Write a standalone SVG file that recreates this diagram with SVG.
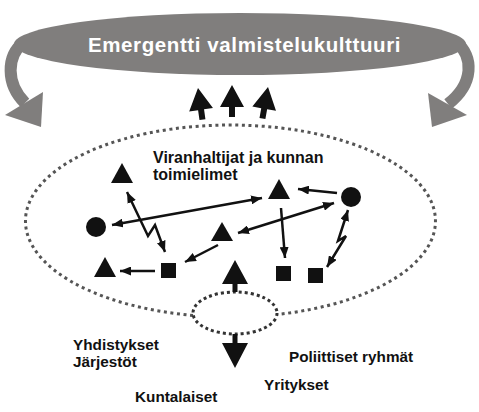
<svg xmlns="http://www.w3.org/2000/svg" width="479" height="412" viewBox="0 0 479 412">
<style>
.lbl{font-family:"Liberation Sans",Arial,sans-serif;font-weight:bold;fill:#111;}
.ln{fill:none;stroke:#111;stroke-width:2.5;marker-end:url(#ah);}
.dbl{marker-start:url(#ah);}
.shape{fill:#111;}
.gray{fill:none;stroke:#807e7d;stroke-width:12;}
</style>
<defs>
<marker id="ah" markerUnits="userSpaceOnUse" markerWidth="11" markerHeight="9" refX="11" refY="4.5" orient="auto-start-reverse">
<path d="M0,0 L11,4.5 L0,9 z" fill="#111"/>
</marker>
<polygon id="bigup" points="0,0 12,22 3,22 3,32 -3,32 -3,22 -12,22"/>
</defs>
<rect width="479" height="412" fill="#fff"/>

<g id="culture">
<path class="gray" d="M 24 42 C 6 56, 6 84, 25 103"/>
<polygon points="5,115 43,92 41,127" fill="#807e7d"/>
<path class="gray" d="M 456 42 C 474 56, 474 84, 448 104"/>
<polygon points="428,93 467,115 432,127" fill="#807e7d"/>
<ellipse cx="240" cy="44" rx="226" ry="31" fill="#807e7d"/>
<text x="88" y="52" font-family="'Liberation Sans',Arial,sans-serif" font-weight="bold" font-size="20.5" letter-spacing="0.6" fill="#fff">Emergentti valmistelukulttuuri</text>
</g>

<g id="emergence-arrows" fill="#111">
<use href="#bigup" transform="translate(198,88) rotate(-8)"/>
<use href="#bigup" transform="translate(232,85)"/>
<use href="#bigup" transform="translate(268,87) rotate(10)"/>
</g>

<g id="organisation">
<path d="M 193 315.4 A 205 96 0 1 1 278 314.4" fill="none" stroke="#555" stroke-width="3" stroke-dasharray="3 3.6"/>
<text class="lbl" font-size="16"><tspan x="153" y="163">Viranhaltijat ja kunnan</tspan><tspan x="153" y="180">toimielimet</tspan></text>
</g>

<g id="interface">
<ellipse cx="235" cy="313" rx="42" ry="21" fill="none" stroke="#333" stroke-width="3" stroke-dasharray="3 3"/>
<polygon class="shape" points="235,260 248,284 237.5,284 237.5,292 232.5,292 232.5,284 222,284"/>
<polygon class="shape" points="232.5,334 237.5,334 237.5,343 248,343 235,368 222,343 232.5,343"/>
</g>

<g id="n-tri1"><polygon class="shape" points="122,163 133,183 111,183"/></g>
<g id="n-circ1"><circle class="shape" cx="96" cy="227" r="10"/></g>
<g id="n-tri2"><polygon class="shape" points="105,257 116,277 94,277"/></g>
<g id="n-sq1"><rect class="shape" x="161" y="263" width="15" height="15"/></g>
<g id="n-tri3"><polygon class="shape" points="222,222 233,241 211,241"/></g>
<g id="n-tri4"><polygon class="shape" points="279,179 290,199 268,199"/></g>
<g id="n-circ2"><circle class="shape" cx="351" cy="197" r="10"/></g>
<g id="n-sq2"><rect class="shape" x="276" y="266" width="15" height="15"/></g>
<g id="n-sq3"><rect class="shape" x="308" y="268" width="15" height="15"/></g>

<g id="connectors">
<path class="ln dbl" d="M 127 192 L 148 236 L 155 225 L 165 252"/>
<path class="ln dbl" d="M 112 225 L 262 198"/>
<path class="ln" d="M 337 193 L 298 189"/>
<path class="ln dbl" d="M 238 233 L 334 203"/>
<path class="ln" d="M 281 208 L 285 258"/>
<path class="ln dbl" d="M 348 210 L 338 241 L 346 236 L 327 267"/>
<path class="ln" d="M 218 245 L 185 262"/>
<path class="ln" d="M 155 271 L 120 271"/>
</g>

<g id="labels">
<text class="lbl" font-size="15.3"><tspan x="73" y="350">Yhdistykset</tspan><tspan x="73" y="367">Järjestöt</tspan></text>
<text class="lbl" font-size="15.3" x="289" y="362">Poliittiset ryhmät</text>
<text class="lbl" font-size="15.3" x="264" y="390">Yritykset</text>
<text class="lbl" font-size="15.3" x="135" y="402">Kuntalaiset</text>
</g>
</svg>
